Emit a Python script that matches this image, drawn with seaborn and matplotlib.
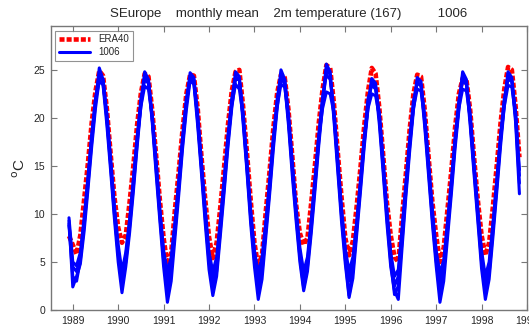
import numpy as np
import pandas as pd

import matplotlib
matplotlib.use("Agg")
import matplotlib.pyplot as plt
import seaborn as sns
from matplotlib.lines import Line2D


# Monthly series, Nov 1988 .. Oct 1998 (120 months)

start_year = 1988
start_month = 11
n_months = 120

era40 = [
    7.7, 6.8,
    5.8, 7.8, 11.5, 15.3, 19.5, 22.8, 24.9, 24.4, 21.0, 16.3, 11.8, 8.6,
    7.0, 7.8, 11.2, 15.0, 19.3, 22.6, 24.6, 24.3, 20.8, 16.2, 11.5, 7.5,
    4.7, 6.0, 10.5, 14.5, 18.8, 22.5, 24.5, 24.4, 21.0, 16.0, 11.5, 7.6,
    5.4, 7.0, 10.8, 15.0, 19.3, 22.8, 24.8, 25.0, 21.2, 16.5, 11.5, 7.0,
    4.5, 5.8, 10.3, 14.5, 19.0, 22.6, 24.5, 24.2, 20.8, 16.0, 11.0, 8.0,
    6.8, 7.5, 11.2, 15.2, 19.5, 23.0, 25.5, 25.2, 21.5, 16.5, 11.8, 7.5,
    5.7, 7.2, 10.8, 14.8, 19.2, 22.8, 25.2, 24.6, 21.0, 16.2, 11.2, 7.8,
    5.5, 5.0, 9.8, 14.2, 18.8, 22.5, 24.5, 24.3, 20.8, 16.0, 11.3, 7.8,
    5.0, 6.5, 10.5, 14.5, 19.0, 22.5, 24.1, 24.0, 20.8, 16.0, 11.5, 7.8,
    5.7, 7.0, 10.8, 15.0, 19.4, 23.0, 25.3, 25.0, 21.2, 15.9,
]

run_a = [
    9.3, 2.4,
    3.5, 4.8, 8.2, 12.5, 17.0, 21.0, 24.0, 23.4, 19.3, 14.5, 9.5, 5.0,
    1.8, 4.5, 8.0, 12.3, 17.0, 21.2, 24.3, 23.8, 19.5, 14.3, 9.3, 4.5,
    0.8, 3.0, 7.5, 12.0, 16.8, 20.8, 23.9, 23.5, 19.2, 14.2, 9.0, 4.2,
    1.5, 3.5, 7.8, 12.3, 17.0, 21.0, 24.0, 24.0, 19.5, 14.5, 9.0, 4.5,
    1.1, 3.2, 7.6, 12.0, 16.8, 21.0, 24.2, 23.5, 19.2, 14.0, 9.3, 5.0,
    2.0, 4.0, 8.0, 12.5, 17.2, 21.3, 25.0, 24.5, 19.8, 14.5, 9.2, 4.8,
    1.3, 3.3, 7.8, 12.3, 17.0, 21.0, 24.0, 23.2, 19.3, 14.3, 9.0, 4.5,
    2.0, 1.1, 6.5, 11.8, 16.5, 20.8, 23.8, 23.3, 19.0, 14.0, 9.0, 4.6,
    0.8, 3.0, 7.5, 12.0, 16.8, 20.8, 24.5, 23.6, 19.2, 14.2, 9.3, 4.3,
    1.1, 3.2, 7.6, 12.2, 17.0, 21.2, 24.6, 23.8, 19.5, 12.1,
]

run_b = [
    8.8, 3.5,
    3.0, 5.2, 8.8, 13.0, 17.5, 21.5, 25.2, 24.0, 19.8, 15.0, 10.0, 5.8,
    2.6, 5.0, 8.6, 12.8, 17.3, 21.6, 24.8, 24.0, 19.8, 14.8, 9.8, 5.2,
    2.0, 4.2, 8.2, 12.6, 17.2, 21.3, 24.7, 24.2, 19.6, 14.7, 9.6, 5.0,
    2.5, 4.0, 8.4, 12.8, 17.4, 21.6, 24.8, 24.3, 19.9, 14.8, 9.6, 5.2,
    2.0, 4.0, 8.2, 12.5, 17.3, 21.5, 25.0, 24.0, 19.6, 14.6, 9.8, 5.5,
    2.3, 4.5, 8.5, 13.0, 17.6, 21.8, 25.6, 24.8, 20.2, 15.0, 9.8, 5.3,
    1.5, 4.0, 8.3, 12.8, 17.4, 21.4, 24.1, 23.6, 19.8, 14.8, 9.6, 5.0,
    1.6, 2.5, 7.2, 12.3, 17.0, 21.2, 24.2, 23.8, 19.4, 14.5, 9.5, 5.2,
    1.8, 4.0, 8.2, 12.6, 17.3, 21.3, 24.8, 24.0, 19.6, 14.7, 9.8, 5.0,
    2.0, 3.8, 8.2, 12.7, 17.5, 21.6, 24.8, 24.2, 19.9, 13.2,
]

run_c = [
    9.0, 4.5,
    4.0, 5.5, 9.2, 13.5, 18.0, 21.8, 23.8, 23.5, 20.2, 15.4, 10.5, 6.2,
    3.3, 5.6, 9.0, 13.4, 17.8, 21.2, 23.3, 23.0, 20.0, 15.3, 10.2, 5.8,
    3.0, 5.0, 8.8, 13.2, 17.6, 21.6, 24.0, 23.6, 20.0, 15.0, 10.0, 5.6,
    3.2, 4.8, 9.0, 13.4, 17.8, 21.3, 23.5, 23.0, 20.2, 15.2, 10.0, 5.8,
    3.0, 4.8, 8.8, 13.0, 17.7, 21.2, 23.5, 23.2, 20.0, 15.0, 10.2, 6.0,
    3.0, 5.0, 9.0, 13.4, 18.0, 21.0, 22.7, 22.5, 20.5, 15.4, 10.3, 6.0,
    3.0, 4.8, 8.8, 13.2, 17.8, 21.0, 22.5, 22.3, 20.2, 15.2, 10.0, 5.6,
    2.5, 3.5, 8.0, 12.8, 17.4, 21.0, 23.0, 22.8, 19.8, 15.0, 10.0, 5.8,
    2.8, 4.6, 8.8, 13.0, 17.6, 21.0, 23.0, 22.8, 20.0, 15.0, 10.2, 5.8,
    2.5, 4.5, 8.7, 13.2, 17.8, 21.2, 23.4, 23.2, 20.3, 14.0,
]

run_d = [
    9.6, 5.0,
    4.6, 6.0, 9.6, 13.8, 18.3, 22.0, 24.4, 24.0, 20.5, 15.8, 10.8, 6.8,
    4.0, 6.0, 9.4, 13.6, 18.0, 22.0, 24.0, 23.6, 20.3, 15.6, 10.6, 6.2,
    4.0, 5.5, 9.2, 13.5, 18.0, 22.0, 24.3, 24.0, 20.4, 15.4, 10.5, 6.0,
    4.0, 5.5, 9.4, 13.7, 18.2, 22.0, 24.3, 24.0, 20.6, 15.6, 10.4, 6.2,
    3.8, 5.5, 9.2, 13.5, 18.0, 22.0, 24.4, 24.0, 20.4, 15.4, 10.6, 6.5,
    4.0, 5.5, 9.4, 13.8, 18.3, 22.2, 24.5, 24.0, 20.8, 15.8, 10.6, 6.4,
    4.0, 5.5, 9.2, 13.5, 18.0, 22.0, 23.4, 23.0, 20.5, 15.6, 10.4, 6.0,
    3.5, 4.2, 8.6, 13.2, 17.8, 21.8, 23.6, 23.4, 20.2, 15.4, 10.5, 6.2,
    3.8, 5.2, 9.2, 13.4, 18.0, 21.8, 23.8, 23.5, 20.4, 15.4, 10.6, 6.2,
    3.5, 5.0, 9.0, 13.5, 18.2, 22.0, 24.0, 23.8, 20.6, 14.6,
]

year_ticks = list(range(1989, 2000))


# Time axis: year + month/12

months = np.arange(n_months)
time = start_year + (start_month + months) / 12.0

runs = {"a": run_a, "b": run_b, "c": run_c, "d": run_d}

model_df = pd.concat(
    [
        pd.DataFrame({"time": time, "temp": vals, "member": name})
        for name, vals in runs.items()
    ],
    ignore_index=True
)

era_df = pd.DataFrame({"time": time, "temp": era40})


# Plot

sns.set_style("ticks")
plt.rcParams["font.family"] = ["Liberation Sans", "DejaVu Sans"]

fig = plt.figure(figsize=(5.29, 3.27), dpi=100)
ax = fig.add_axes([0.0955, 0.052, 0.9007, 0.8695])

red_style = (0, (1.1, 0.45))

sns.lineplot(
    data=era_df,
    x="time",
    y="temp",
    color="#ff0000",
    linewidth=3.3,
    linestyle=red_style,
    ax=ax,
    legend=False
)

sns.lineplot(
    data=model_df,
    x="time",
    y="temp",
    units="member",
    estimator=None,
    color="#0000ff",
    linewidth=2.2,
    ax=ax,
    legend=False
)

ax.set_xlim(1988.51, 1999.0)
ax.set_ylim(0, 29.6)

ax.set_xticks(year_ticks)
ax.set_xticklabels([str(y) for y in year_ticks], fontsize=7.5)
ax.set_yticks([0, 5, 10, 15, 20, 25])
ax.set_yticklabels(["0", "5", "10", "15", "20", "25"], fontsize=7.5)

ax.tick_params(
    direction="in",
    length=4,
    width=0.8,
    color="#777777",
    top=True,
    right=True,
    pad=4
)

for spine in ax.spines.values():
    spine.set_color("#777777")
    spine.set_linewidth(1.0)

ax.set_xlabel("")
ax.set_ylabel(r"$^{\rm o}$C", fontsize=11, labelpad=4)

ax.set_title(
    "SEurope    monthly mean    2m temperature (167)          1006",
    fontsize=9.5,
    pad=6
)

handles = [
    Line2D([0], [0], color="#ff0000", linewidth=3.3, linestyle=red_style),
    Line2D([0], [0], color="#0000ff", linewidth=2.2),
]

leg = ax.legend(
    handles,
    ["ERA40", "1006"],
    loc="upper left",
    fontsize=7,
    frameon=True,
    fancybox=False,
    handlelength=3.2,
    borderaxespad=0.5,
    borderpad=0.4,
    labelspacing=0.3
)
leg.get_frame().set_edgecolor("#777777")
leg.get_frame().set_linewidth(0.8)

plt.savefig("out.png", dpi=100)

plt.close()
